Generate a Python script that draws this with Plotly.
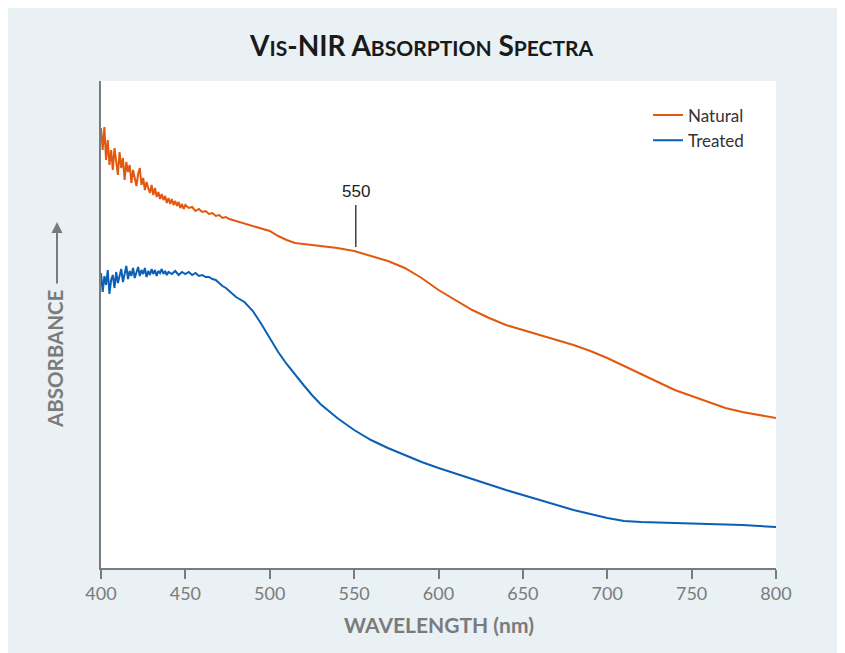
import plotly.graph_objects as go

# ---- data (absorbance, arbitrary units) ----
natural_nm = list(range(400, 451)) + [452, 454, 456, 458, 460, 462, 464, 466, 468, 470, 472, 474,
              476, 478, 480, 490, 500, 505, 510, 515, 520, 530, 540, 550, 560, 570, 580, 590, 600,
              610, 620, 630, 640, 650, 660, 670, 680, 690, 700, 710, 720, 730, 740, 750, 760, 770,
              780, 790, 800]
natural_abs = [4.40, 4.18, 4.41, 4.08, 4.28, 4.03, 4.18, 3.98, 4.20, 4.08, 3.93, 4.16, 4.00, 4.10,
               3.88, 4.06, 3.96, 4.03, 3.85, 3.98, 3.90, 3.82, 3.94, 4.00, 3.83, 3.90, 3.78, 3.86,
               3.80, 3.75, 3.83, 3.73, 3.80, 3.71, 3.76, 3.69, 3.74, 3.68, 3.72, 3.65, 3.70, 3.64,
               3.69, 3.63, 3.67, 3.62, 3.66, 3.60, 3.64, 3.59, 3.63,
               3.60, 3.61, 3.57, 3.59, 3.56, 3.57, 3.54, 3.55, 3.52, 3.53, 3.50, 3.51, 3.49, 3.48,
               3.47, 3.42, 3.37, 3.32, 3.28, 3.25, 3.24, 3.22, 3.20, 3.17, 3.12, 3.07, 3.00, 2.90,
               2.78, 2.68, 2.58, 2.50, 2.43, 2.38, 2.33, 2.28, 2.23, 2.17, 2.10, 2.02, 1.94, 1.86,
               1.78, 1.72, 1.66, 1.60, 1.56, 1.53, 1.50]

treated_nm = list(range(400, 441)) + [442, 444, 446, 448, 450, 452, 454, 456, 458, 460, 462, 464,
              466, 468, 470, 472, 474, 476, 478, 480, 485, 490, 495, 500, 505, 510, 515, 520, 525,
              530, 540, 550, 560, 570, 580, 590, 600, 620, 640, 660, 680, 700, 710, 720, 740, 760,
              780, 800]
treated_abs = [2.95, 2.76, 2.92, 2.83, 2.98, 2.74, 2.88, 2.93, 2.80, 2.96, 2.85, 2.91, 2.99, 2.86,
               2.94, 3.02, 2.89, 2.97, 2.92, 3.00, 2.90, 2.96, 3.01, 2.92, 2.98, 2.94, 3.00, 2.91,
               2.97, 2.93, 2.99, 2.94, 2.98, 2.92, 2.97, 2.95, 2.99, 2.94, 2.97, 2.93, 2.96,
               2.94, 2.97, 2.93, 2.96, 2.94, 2.96, 2.93, 2.95, 2.92, 2.93, 2.91, 2.91, 2.89, 2.88,
               2.85, 2.82, 2.80, 2.77, 2.74, 2.71, 2.66, 2.57, 2.44, 2.30, 2.16, 2.04, 1.93, 1.83,
               1.73, 1.64, 1.50, 1.38, 1.28, 1.20, 1.13, 1.06, 1.00, 0.89, 0.78, 0.68, 0.58, 0.50,
               0.47, 0.46, 0.45, 0.44, 0.43, 0.41]

x_ticks = [400, 450, 500, 550, 600, 650, 700, 750, 800]
marker_nm = 551
marker_low, marker_high = 3.21, 3.63
marker_label = "550"

ORANGE = "#e2580f"
BLUE = "#0b5fb4"
GRAY = "#7b7b7b"
PANEL = "#e9f1f4"

fig = go.Figure()
fig.add_trace(go.Scatter(x=natural_nm, y=natural_abs, mode="lines", name="Natural",
                         line=dict(color=ORANGE, width=2)))
fig.add_trace(go.Scatter(x=treated_nm, y=treated_abs, mode="lines", name="Treated",
                         line=dict(color=BLUE, width=2)))

# 550 nm marker line
fig.add_shape(type="line", xref="x", yref="y", x0=marker_nm, x1=marker_nm,
              y0=marker_low, y1=marker_high, line=dict(color="#222222", width=1.3))

S = "font-size:21px"
title_html = (f"<b>V<span style='{S}'>IS</span>-NIR A<span style='{S}'>BSORPTION</span>"
              f" S<span style='{S}'>PECTRA</span></b>")

PH = 487.0  # plot height in px
PW = 675.0  # plot width in px

annotations = [
    dict(text=marker_label, x=marker_nm, y=marker_high, xref="x", yref="y", yanchor="bottom",
         yshift=2, showarrow=False, font=dict(family="Liberation Sans, Arial", size=17, color="#222222")),
    dict(text=title_html, x=(421 - 101) / PW, y=(568 - 45) / PH, xref="paper", yref="paper",
         showarrow=False, xanchor="center", yanchor="middle",
         font=dict(family="Lato", size=28, color="#1a1a1a")),
    dict(text="<b>WAVELENGTH (nm)</b>", x=0.5, y=-56 / PH, xref="paper", yref="paper",
         xanchor="center", yanchor="middle", showarrow=False,
         font=dict(family="Lato", size=21, color=GRAY)),
    dict(text="<b>ABSORBANCE</b>", x=-46 / PW, y=209 / PH, xref="paper", yref="paper",
         xanchor="center", yanchor="middle", textangle=-90, showarrow=False,
         font=dict(family="Lato", size=20.5, color=GRAY)),
    dict(text="", x=-44 / PW, y=346 / PH, xref="paper", yref="paper", showarrow=True,
         ax=0, ay=63, arrowhead=2, arrowsize=1.1, arrowwidth=2, arrowcolor=GRAY, standoff=0),
]

fig.update_layout(
    width=845, height=653,
    margin=dict(l=93, r=77, t=73, b=93),
    paper_bgcolor=PANEL,
    plot_bgcolor="white",
    showlegend=True,
    legend=dict(x=(648 - 101) / PW, y=0.966, xanchor="left", yanchor="top", bgcolor="rgba(0,0,0,0)",
                font=dict(family="Lato", size=17, color="#333333"), tracegroupgap=0),
    annotations=annotations,
    xaxis=dict(range=[400, 800], tickvals=x_ticks, ticks="outside", ticklen=9, tickwidth=1.5,
               tickcolor=GRAY, showline=True, linecolor=GRAY, linewidth=1.5, showgrid=False,
               zeroline=False, tickfont=dict(family="Lato", size=18, color=GRAY)),
    yaxis=dict(range=[0, 4.87], showticklabels=False, ticks="", showline=True, linecolor=GRAY,
               linewidth=1.5, showgrid=False, zeroline=False),
)

fig.write_html("out.html")
